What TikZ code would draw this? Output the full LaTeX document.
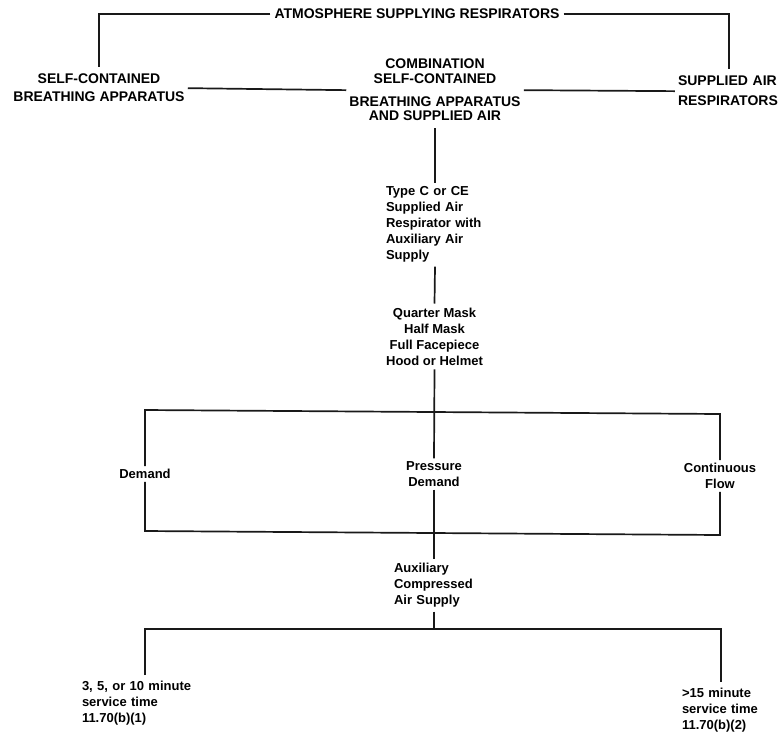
\documentclass[tikz,border=0pt]{standalone}
\usepackage{fontspec}
\setmainfont{Liberation Sans}
\begin{document}
\begin{tikzpicture}[x=1pt,y=-1pt,
  wire/.style={draw=black!90, line width=1.7pt},
  caps/.style={font=\fontsize{14}{18}\selectfont\bfseries, inner xsep=3pt, inner ysep=7pt},
  small/.style={font=\fontsize{13}{16}\selectfont\bfseries, inner sep=4pt},
  tight/.style={small, inner sep=3pt},
  leaf/.style={small, inner xsep=0pt, inner ysep=6pt, align=left}]
\useasboundingbox (0,0) rectangle (778,734);

% headings of the classification
\node[caps, inner xsep=4pt] (title) at (417,14) {ATMOSPHERE SUPPLYING RESPIRATORS};
\node[caps, align=center, anchor=north] (scba) at (99,67)
  {SELF-CONTAINED\\BREATHING APPARATUS};
\node[caps, align=center, anchor=north] (combo) at (435,52)
  {COMBINATION\\[-3pt]SELF-CONTAINED\\[5pt]BREATHING APPARATUS\\[-4pt]AND SUPPLIED AIR};
\node[caps, align=left, text width=102pt, font=\fontsize{14}{20}\selectfont\bfseries, anchor=north] (sar) at (729,69)
  {SUPPLIED AIR\\RESPIRATORS};

% respirator type and facepieces
\node[small, align=left, text width=98pt, anchor=north] (typec) at (435,182.5)
  {Type C or CE\\Supplied Air\\Respirator with\\Auxiliary Air\\Supply};
\node[small, align=center, anchor=north] (mask) at (434.5,303.5)
  {Quarter Mask\\Half Mask\\Full Facepiece\\Hood or Helmet};

% modes of operation
\node[tight] (demand) at (145,474) {Demand};
\node[tight, align=center] (pd) at (434,474) {Pressure\\Demand};
\node[tight, align=center] (cf) at (720,476) {Continuous\\Flow};

\node[small, align=left, text width=80pt, anchor=north] (aux) at (434,559)
  {Auxiliary\\Compressed\\Air Supply};

% service times
\node[leaf, text width=126pt, anchor=north] (lt) at (145,675)
  {3, 5, or 10 minute\\service time\\11.70(b)(1)};
\node[leaf, text width=78pt, anchor=north] (rt) at (721,682)
  {>15 minute\\service time\\11.70(b)(2)};

% junction points
\coordinate (tl) at (145,410);
\coordinate (tr) at (720,414);
\coordinate (bl) at (145,531);
\coordinate (br) at (720,535);
\coordinate (fork) at (434,629);

% connectors
\draw[wire] (title.west) -| (scba.north);
\draw[wire] (title.east) -| (sar.north);
\draw[wire] (scba.east) -- (combo.west);
\draw[wire] (combo.east) -- (sar.west);
\draw[wire] (combo.south) -- (typec.north);
\draw[wire] (typec.south) -- (mask.north);
\draw[wire] (mask.south) -- (pd.north);
\draw[wire] (demand.north) -- (tl) -- (tr) -- (cf.north);
\draw[wire] (demand.south) -- (bl) -- (br) -- (cf.south);
\draw[wire] (pd.south) -- (aux.north);
\draw[wire] (aux.south) -- (fork);
\draw[wire] (lt.north) |- (fork) -| (rt.north);
\end{tikzpicture}
\end{document}
